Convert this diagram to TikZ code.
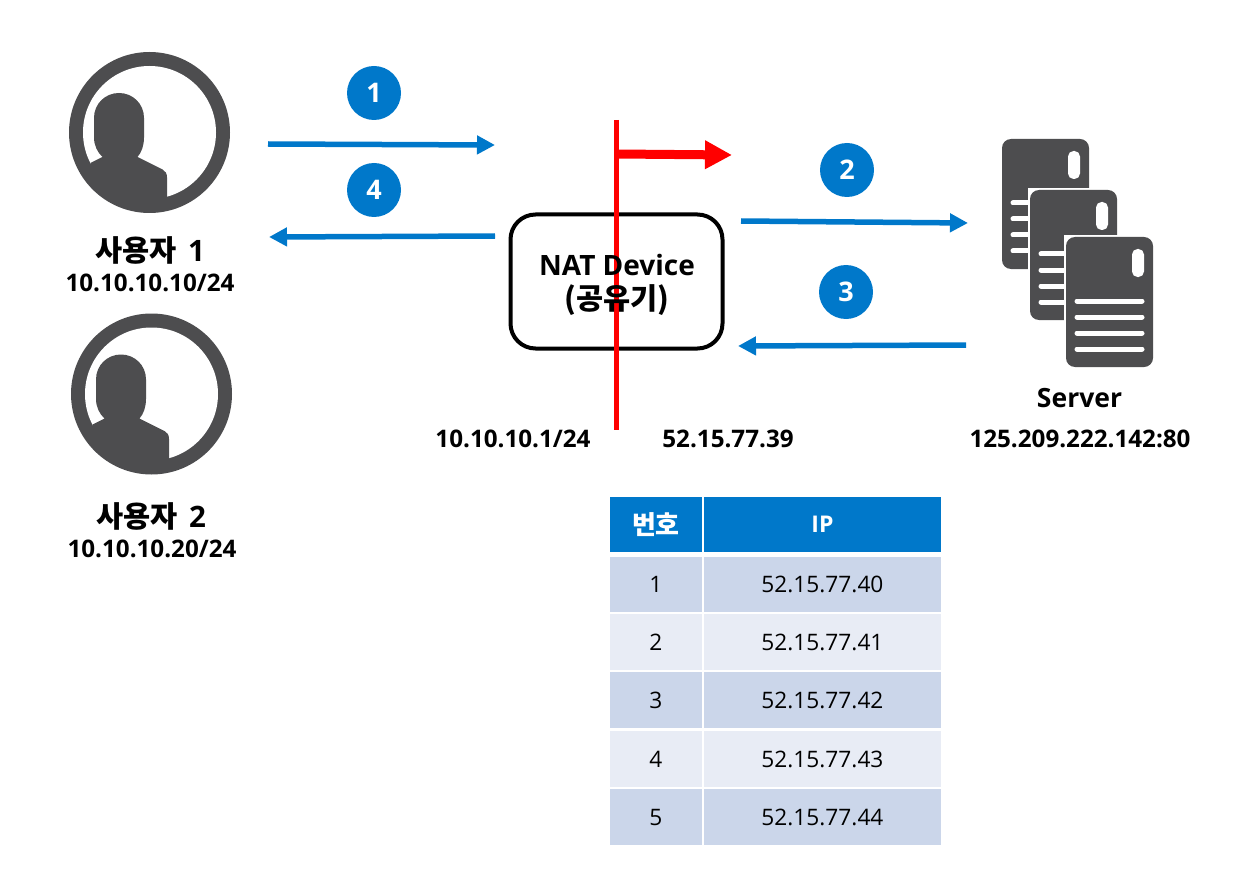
\documentclass[tikz,border=0pt]{standalone}
\usepackage{fontspec}
\setmainfont{Open Sans}
\newfontfamily\kor{Noto Sans CJK KR}
\usetikzlibrary{arrows.meta}
\definecolor{icongray}{HTML}{4D4D4F}
\definecolor{flowblue}{HTML}{0078CA}
\definecolor{rowdark}{HTML}{CBD6EA}
\definecolor{rowlight}{HTML}{E8ECF5}

\begin{document}
\begin{tikzpicture}[
      x=1pt, y=-1pt,
      flow/.style={draw=flowblue, line width=5.5pt, -{Triangle[length=18pt, width=18pt]}},
      badge/.style={circle, fill=flowblue, text=white, minimum size=54pt, inner sep=0pt,
                    font=\fontsize{27}{27}\bfseries},
      caption/.style={font=\fontsize{29.5}{32}\bfseries\kor, align=center, inner sep=0pt},
      addr/.style={font=\fontsize{24.2}{28}\bfseries, inner sep=0pt},
      cell/.style={minimum height=#1, inner sep=0pt, anchor=north west,
                   font=\fontsize{22.7}{26}\selectfont},
      person/.pic={
        \fill[icongray] (0,0) circle (80.5);
        \fill[white] (0,0) circle (66.5);
        \begin{scope}
          \clip (0,0) circle (68);
          \fill[icongray] (-59,30.5) -- (-47,24.5)
            .. controls (-52,20) and (-55.5,13) .. (-55.5,5) -- (-55.5,-14.5)
            .. controls (-55.5,-29) and (-44,-39.5) .. (-30.5,-39.5)
            .. controls (-17,-39.5) and (-5.5,-29) .. (-5.5,-14.5) -- (-5.5,5)
            .. controls (-5.5,13) and (-8,20) .. (-12,24.5)
            -- (13,37) .. controls (16,38.5) and (17.5,41) .. (17.5,45)
            -- (17.5,80) -- (-59,80) -- cycle;
        \end{scope}
      },
      servercard/.pic={
        \fill[white] (-2,-2) rectangle (87,130);
        \fill[icongray, rounded corners=9pt] (0,0) rectangle (87,130);
        \fill[white, rounded corners=5.5pt] (66,12) rectangle (78,40);
        \foreach \liney in {64,80,96,112}
          \draw[white, line width=5pt, line cap=round] (11,\liney) -- (76,\liney);
      },
    ]
    \useasboundingbox (0,0) rectangle (1260,877);

    % users
    \pic at (149.5,132.5) {person};
    \pic at (151.5,394) {person};
    \node[caption] (user1) at (150,250) {사용자 \,{\fontspec{Open Sans}1}};
    \node[addr] (addr1) at (150,283) {10.10.10.10/24};
    \node[caption] (user2) at (151,516) {사용자 \,{\fontspec{Open Sans}2}};
    \node[addr] (addr2) at (152,549) {10.10.10.20/24};

    % servers
    \pic at (1002,139) {servercard};
    \pic at (1030,190) {servercard};
    \pic at (1066,237) {servercard};
    \node[font=\fontsize{26.5}{30}\bfseries, inner sep=0pt] (server) at (1079.5,398) {Server};
    \node[addr] (addrs) at (1080,439) {125.209.222.142:80};

    % device, the red line runs over the box and under its text
    \node[draw, line width=4pt, rounded corners=25pt, minimum width=212pt, minimum height=134pt]
      (nat) at (616.5,281.5) {};
    \coordinate (cuttop) at (616.5,120);
    \coordinate (cutbot) at (616.5,430);
    \coordinate (cutarm) at (616.5,154);
    \coordinate (cuttip) at (732,155);
    \draw[red, line width=4.5pt] (cuttop) -- (cutbot);
    \draw[red, line width=9pt, -{Triangle[length=27pt, width=27pt]}] (cutarm) -- (cuttip);
    \node[font=\fontsize{29.5}{34}\bfseries\kor, align=center, inner sep=0pt] (natlabel) at (617,285)
      {{\fontspec{Open Sans}\fontsize{28}{34}\selectfont NAT Device}\\({공유기})};
    \node[addr] (inside) at (513,439) {10.10.10.1/24};
    \node[addr] (outside) at (728,439) {52.15.77.39};

    % flows
    \coordinate (a1) at (268,144);
    \coordinate (b1) at (495,145);
    \coordinate (a4) at (495,236);
    \coordinate (b4) at (269,237);
    \coordinate (a2) at (741,221);
    \coordinate (b2) at (968,223);
    \coordinate (a3) at (966,345);
    \coordinate (b3) at (738,346);
    \draw[flow] (a1) -- (b1);
    \draw[flow] (a4) -- (b4);
    \draw[flow] (a2) -- (b2);
    \draw[flow] (a3) -- (b3);
    \node[badge] (no1) at (374,93) {1};
    \node[badge] (no4) at (374,190) {4};
    \node[badge] (no2) at (847,170) {2};
    \node[badge] (no3) at (846,292) {3};

    % table
    \node[cell=55pt, minimum width=92.5pt, fill=flowblue, text=white, font=\fontsize{26}{28}\bfseries\kor]
      (headno) at (609.5,497) {번호};
    \node[cell=55pt, minimum width=236.5pt, fill=flowblue, text=white, font=\fontsize{23}{26}\bfseries]
      (headip) at (704,497) {IP};
    \foreach \num/\ip/\rowy/\rowh/\shade in {1/40/557/55/rowdark, 2/41/614/56/rowlight,
        3/42/672/56/rowdark, 4/43/731/56/rowlight, 5/44/789/56/rowdark} {
      \node[cell=\rowh pt, minimum width=92.5pt, fill=\shade] (no\num) at (609.5,\rowy) {\num};
      \node[cell=\rowh pt, minimum width=236.5pt, fill=\shade] (ip\num) at (704,\rowy) {52.15.77.\ip};
    }
\end{tikzpicture}
\end{document}
